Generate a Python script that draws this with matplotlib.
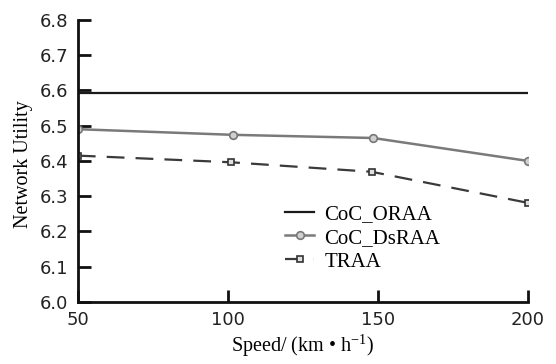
import matplotlib
matplotlib.use("Agg")
import matplotlib.pyplot as plt

# Данные
speed_oraa = [50, 200]
util_oraa = [6.593, 6.593]

speed_dsraa = [50, 101.7, 148.5, 200]
util_dsraa = [6.490, 6.474, 6.465, 6.400]

speed_traa = [50, 101.2, 148, 200]
util_traa = [6.415, 6.396, 6.369, 6.281]

x_ticks = [50, 100, 150, 200]
y_ticks = [6.0, 6.1, 6.2, 6.3, 6.4, 6.5, 6.6, 6.7, 6.8]

plt.rcParams['mathtext.fontset'] = 'stix'

fig = plt.figure(figsize=(5.56, 3.64), dpi=100)
ax = fig.add_axes([0.140, 0.171, 0.809, 0.774])

ax.plot(speed_oraa, util_oraa, color='#1a1a1a', lw=1.6, label='CoC_ORAA')
ax.plot(speed_dsraa, util_dsraa, color='#7a7a7a', lw=1.8, marker='o',
        markersize=5.5, markerfacecolor='#d0d0d0', markeredgecolor='#777777',
        markeredgewidth=1.2, label='CoC_DsRAA')
ax.plot(speed_traa, util_traa, color='#3a3a3a', lw=1.6, linestyle=(0, (8, 5)),
        marker='s', markersize=4.5, markerfacecolor='#e0e0e0',
        markeredgecolor='#333333', markeredgewidth=1.2, label='TRAA')

ax.set_xlim(50, 200)
ax.set_ylim(6.0, 6.8)
ax.set_xticks(x_ticks)
ax.set_yticks(y_ticks)
ax.set_yticklabels([f'{v:.1f}' for v in y_ticks])

for s in ['top', 'right']:
    ax.spines[s].set_visible(False)
for s in ['left', 'bottom']:
    ax.spines[s].set_linewidth(2)
    ax.spines[s].set_color('#111111')

ax.tick_params(direction='in', length=9, width=2, colors='#111111',
               labelsize=13, pad=7)
ax.tick_params(axis='x', pad=7)
for lab in ax.get_xticklabels() + ax.get_yticklabels():
    lab.set_color('#222222')

ax.set_xlabel('Speed/ (km • h$^{\\mathregular{-1}}$)', family='Liberation Serif',
              fontsize=14.5)
ax.xaxis.set_label_coords(0.5, -0.108)
ax.set_ylabel('Network Utility', family='Liberation Serif', fontsize=14.5)
ax.yaxis.set_label_coords(-0.10, 0.49)

leg = ax.legend(loc='upper left', bbox_to_anchor=(0.442, 0.375), frameon=False,
                prop={'family': 'Liberation Serif', 'size': 15},
                handlelength=1.4, handletextpad=0.5, labelspacing=0.2,
                borderaxespad=0)

fig.savefig('out.png', dpi=100)
